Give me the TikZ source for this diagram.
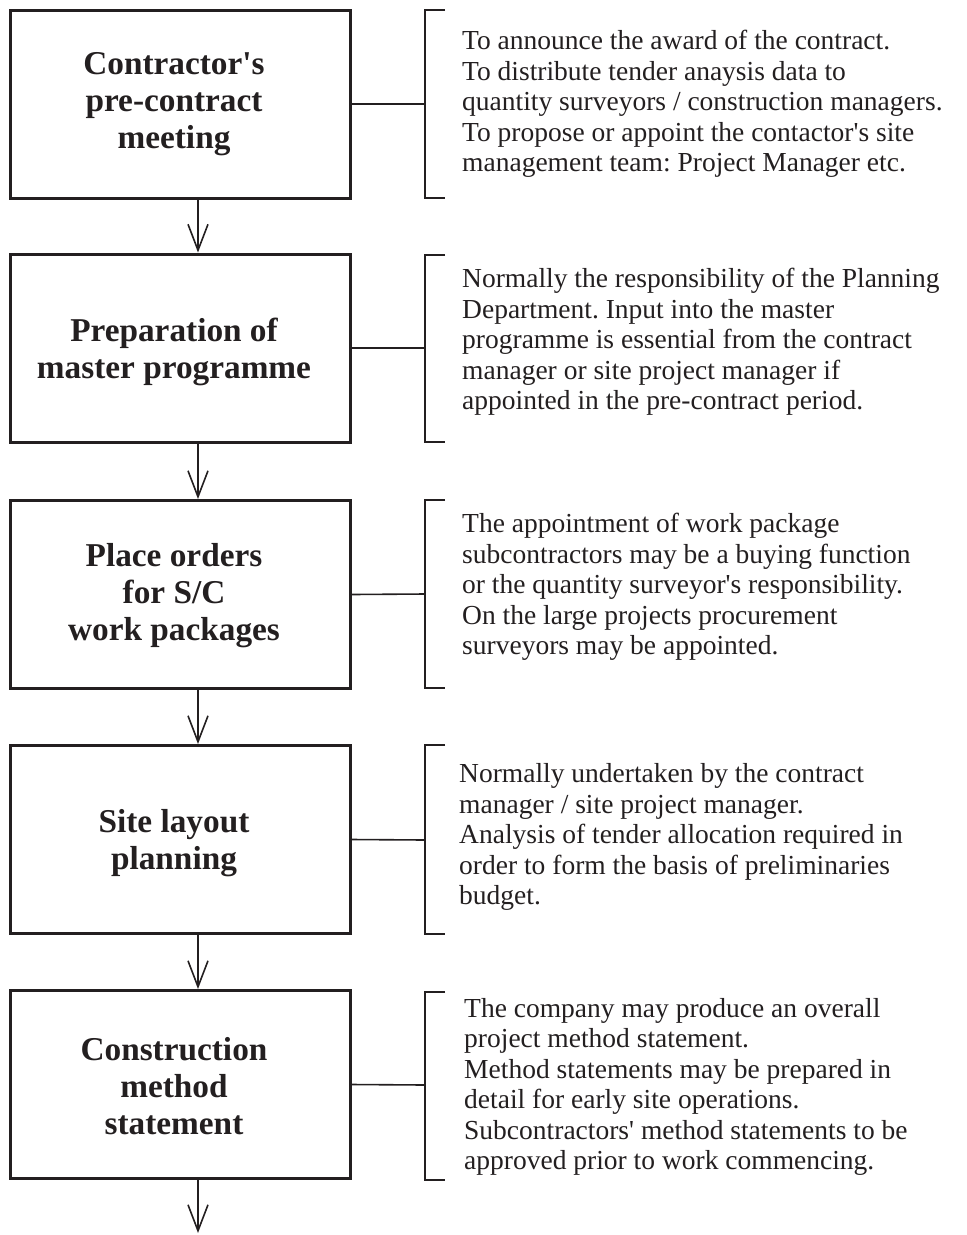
\documentclass[tikz,border=0pt]{standalone}
\usepackage{fontspec}
\setmainfont{Liberation Serif}
\usetikzlibrary{arrows.meta}
\definecolor{ink}{HTML}{231F20}
\newcommand{\apos}{\textquotesingle}
\frenchspacing
\begin{document}
\begin{tikzpicture}[x=1pt,y=-1pt,
  stepbox/.style={draw=ink, line width=3pt, minimum width=340pt, minimum height=188pt, inner sep=0pt},
  title/.style={font=\fontsize{33.3}{37}\selectfont\bfseries, align=center, text=ink, inner sep=0pt},
  note/.style={font=\fontsize{27.5}{30.5}\selectfont, align=left, text=ink, anchor=west, inner sep=0pt},
  flow/.style={draw=ink, line width=1.6pt, -{Straight Barb[length=26pt,width=20pt,line width=1.6pt]}},
  link/.style={draw=ink, line width=1.6pt},
  brace/.style={draw=ink, line width=2pt}
]
\useasboundingbox (0,0) rectangle (967,1235);

% process steps
\node[stepbox] (b1) at (180,104) {};
\node[stepbox] (b2) at (180,348) {};
\node[stepbox] (b3) at (180,594.5) {};
\node[stepbox] (b4) at (180,839.5) {};
\node[stepbox] (b5) at (180,1084.5) {};

\node[title] (t1) at (174,104) {Contractor\apos s\\pre-contract\\meeting};
\node[title] (t2) at (174,352) {Preparation of\\master programme};
\node[title] (t3) at (174,596) {Place orders\\for S/C\\work packages};
\node[title] (t4) at (174,843) {Site layout\\planning};
\node[title] (t5) at (174,1086) {Construction\\method\\statement};

% flow between steps
\coordinate (end) at (198,1233);
\draw[flow] ([xshift=18pt]b1.south) -- ([xshift=18pt]b2.north);
\draw[flow] ([xshift=18pt]b2.south) -- ([xshift=18pt]b3.north);
\draw[flow] ([xshift=18pt]b3.south) -- ([xshift=18pt]b4.north);
\draw[flow] ([xshift=18pt]b4.south) -- ([xshift=18pt]b5.north);
\draw[flow] ([xshift=18pt]b5.south) -- (end);

% brackets with their notes
\coordinate (k1) at (425,104);
\coordinate (k2) at (425,348);
\coordinate (k3) at (425,594);
\coordinate (k4) at (425,840);
\coordinate (k5) at (425,1085);

\draw[brace] (445,10) -- (425,10) -- (425,198) -- (445,198);
\draw[brace] (445,255) -- (425,255) -- (425,442) -- (445,442);
\draw[brace] (445,500) -- (425,500) -- (425,688) -- (445,688);
\draw[brace] (445,745) -- (425,745) -- (425,934) -- (445,934);
\draw[brace] (445,992) -- (425,992) -- (425,1180) -- (445,1180);

\draw[link] (b1.east) -- (k1);
\draw[link] (b2.east) -- (k2);
\draw[link] (b3.east) -- (k3);
\draw[link] (b4.east) -- (k4);
\draw[link] (b5.east) -- (k5);

\node[note] (n1) at (462,104) {To announce the award of the contract.\\To distribute tender anaysis data to\\quantity surveyors / construction managers.\\To propose or appoint the contactor\apos s site\\management team: Project Manager etc.};
\node[note] (n2) at (462,342) {Normally the responsibility of the Planning\\Department. Input into the master\\programme is essential from the contract\\manager or site project manager if\\appointed in the pre-contract period.};
\node[note] (n3) at (462,587) {The appointment of work package\\subcontractors may be a buying function\\or the quantity surveyor\apos s responsibility.\\On the large projects procurement\\surveyors may be appointed.};
\node[note] (n4) at (459,837) {Normally undertaken by the contract\\manager / site project manager.\\Analysis of tender allocation required in\\order to form the basis of preliminaries\\budget.};
\node[note] (n5) at (464,1087) {The company may produce an overall\\project method statement.\\Method statements may be prepared in\\detail for early site operations.\\Subcontractors\apos\ method statements to be\\approved prior to work commencing.};
\end{tikzpicture}
\end{document}
